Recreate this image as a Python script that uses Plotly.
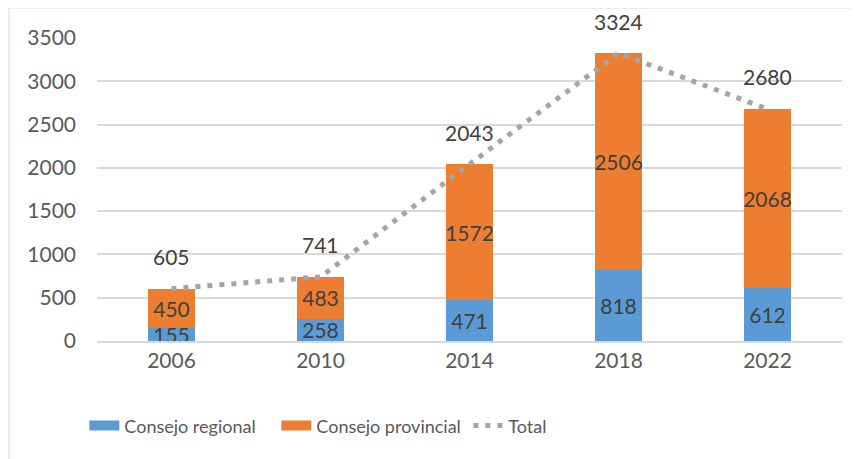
import plotly.graph_objects as go

years = ['2006', '2010', '2014', '2018', '2022']
regional = [155, 258, 471, 818, 612]
provincial = [450, 483, 1572, 2506, 2068]
total = [605, 741, 2043, 3324, 2680]
y_ticks = [0, 500, 1000, 1500, 2000, 2500, 3000, 3500]

azul = '#5B9BD5'
naranja = '#ED7D31'
gris = '#A5A5A5'
txt = '#404040'

fig = go.Figure()

# barras apiladas con etiqueta centrada
for nombre, vals, color in [('Consejo regional', regional, azul),
                            ('Consejo provincial', provincial, naranja)]:
    fig.add_trace(go.Bar(x=years, y=vals, name=nombre, marker=dict(color=color, line=dict(width=0)),
                         text=[str(v) for v in vals], textposition='inside',
                         insidetextanchor='middle', constraintext='none', textangle=0,
                         textfont=dict(size=21, color=txt), showlegend=False))

fig.add_trace(go.Scatter(x=years, y=total, mode='lines', name='Total',
                         line=dict(color=gris, width=5, dash='5px,7px'), showlegend=False))

# etiquetas del total por encima del punto (en eje de categorías se usa el índice)
for i, v in enumerate(total):
    fig.add_annotation(x=i, y=v, text=str(v), showarrow=False, yshift=32,
                       font=dict(size=21, color=txt))

# leyenda con muestras anchas
fig.add_trace(go.Scatter(x=[years[0]], y=[None], mode='lines', name='Consejo regional',
                         line=dict(color=azul, width=14)))
fig.add_trace(go.Scatter(x=[years[0]], y=[None], mode='lines', name='Consejo provincial',
                         line=dict(color=naranja, width=14)))
fig.add_trace(go.Scatter(x=[years[0]], y=[None], mode='lines', name='Total',
                         line=dict(color=gris, width=5, dash='5px,7px')))

# marco del gráfico
fig.add_shape(type='rect', xref='paper', yref='paper', x0=-0.118, x1=1.2, y0=-0.5, y1=1.099,
              line=dict(color='#D9D9D9', width=1), layer='below')

fig.update_layout(
    barmode='stack', bargap=0.685,
    width=859, height=459,
    margin=dict(l=89, r=25, t=30, b=126, autoexpand=False),
    paper_bgcolor='white', plot_bgcolor='white',
    font=dict(family='Lato', size=21, color='#595959'),
    xaxis=dict(type='category', categoryorder='array', categoryarray=years,
               range=[-0.5, len(years) - 0.5],
               showgrid=False, showline=True, linecolor='#D9D9D9', linewidth=1.5,
               ticks='', tickfont=dict(size=21, color='#595959')),
    yaxis=dict(range=[0, 3500], tickvals=y_ticks, showgrid=True, gridcolor='#D9D9D9',
               gridwidth=1.5, zeroline=False, showline=False, ticks='',
               ticklabelstandoff=20, tickfont=dict(size=21, color='#595959')),
    legend=dict(orientation='h', traceorder='normal', x=-0.017, xanchor='left', y=-0.28,
                yanchor='middle', entrywidth=147, entrywidthmode='pixels',
                font=dict(size=18, color='#595959')),
)

fig.write_html('out.html')
